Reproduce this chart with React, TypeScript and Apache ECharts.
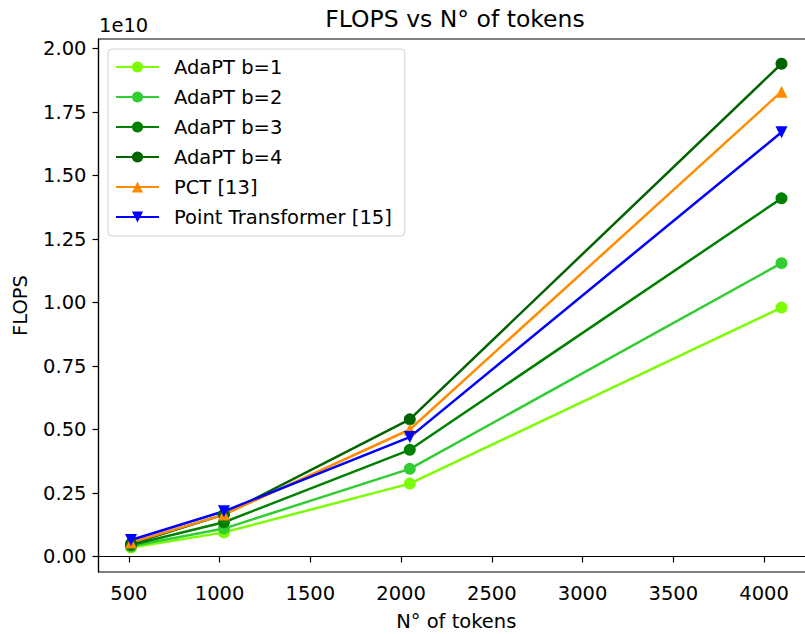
import React, { useEffect, useRef } from "react";
import * as echarts from "echarts";

const tokens = [512, 1024, 2048, 4096];
const adapt1 = [0.035e10, 0.095e10, 0.287e10, 0.98e10];
const adapt2 = [0.04e10, 0.11e10, 0.345e10, 1.155e10];
const adapt3 = [0.045e10, 0.135e10, 0.42e10, 1.41e10];
const adapt4 = [0.05e10, 0.165e10, 0.54e10, 1.94e10];
const pct = [0.055e10, 0.165e10, 0.5e10, 1.83e10];
const pointTransformer = [0.065e10, 0.178e10, 0.47e10, 1.67e10];

const xTicks = [500, 1000, 1500, 2000, 2500, 3000, 3500, 4000];
const yTicks = [0, 0.25e10, 0.5e10, 0.75e10, 1.0e10, 1.25e10, 1.5e10, 1.75e10, 2.0e10];

const FONT = "DejaVu Sans";
const FS = 19.5;

export default function App() {
  const ref = useRef<HTMLDivElement>(null);
  useEffect(() => {
    if (!ref.current) return;
    const chart = echarts.init(ref.current, null, { renderer: "svg" });
    const mk = (name: string, data: number[], color: string, symbol: string, rotate = 0) => ({
      name,
      type: "line",
      data: tokens.map((t, i) => [t, data[i]]),
      symbol,
      symbolSize: 12,
      symbolRotate: rotate,
      showSymbol: true,
      lineStyle: { color, width: 2.5 },
      itemStyle: { color },
      emphasis: { disabled: true },
    });
    chart.setOption({
      animation: false,
      textStyle: { fontFamily: FONT },
      grid: {
        left: 98.5,
        top: 39,
        right: -9,
        bottom: 62,
        show: true,
        borderColor: "#000",
        borderWidth: 1.2,
        outerBoundsMode: "none",
        containLabel: false,
      },
      graphic: [
        {
          type: "text",
          x: 455,
          y: 19,
          style: {
            text: "FLOPS vs N° of tokens",
            fontFamily: FONT,
            fontSize: 23.5,
            fill: "#000",
            textAlign: "center",
            textVerticalAlign: "middle",
          },
        },
        {
          type: "text",
          x: 99,
          y: 25,
          style: {
            text: "1e10",
            fontFamily: FONT,
            fontSize: FS,
            fill: "#000",
            textAlign: "left",
            textVerticalAlign: "middle",
          },
        },
      ],
      legend: {
        orient: "vertical",
        left: 108,
        top: 49,
        padding: [7, 13, 8, 7],
        itemWidth: 43,
        itemHeight: 14,
        itemGap: 8,
        backgroundColor: "rgba(255,255,255,0.85)",
        borderColor: "#d0d0d0",
        borderWidth: 1,
        borderRadius: 4,
        textStyle: {
          fontFamily: FONT,
          fontSize: FS,
          color: "#000",
          lineHeight: 22,
          padding: [0, 0, 0, 10],
        },
        data: ["AdaPT b=1", "AdaPT b=2", "AdaPT b=3", "AdaPT b=4", "PCT [13]", "Point Transformer [15]"],
      },
      xAxis: {
        type: "value",
        min: 332.8,
        max: 4275.2,
        name: "N° of tokens",
        nameLocation: "middle",
        nameGap: 39,
        nameTextStyle: { fontFamily: FONT, fontSize: FS, color: "#000" },
        axisLine: { show: true, lineStyle: { color: "#000", width: 1.2 } },
        axisTick: { show: true, length: 6, lineStyle: { color: "#000", width: 1.2 }, customValues: xTicks },
        axisLabel: {
          fontFamily: FONT,
          fontSize: FS,
          color: "#000",
          margin: 11,
          customValues: xTicks,
          formatter: (v: number) => String(v),
        },
        splitLine: { show: false },
      },
      yAxis: {
        type: "value",
        min: -0.061e10,
        max: 2.0374e10,
        name: "FLOPS",
        nameLocation: "middle",
        nameGap: 68,
        nameTextStyle: { fontFamily: FONT, fontSize: FS, color: "#000" },
        axisLine: { show: true, lineStyle: { color: "#000", width: 1.2 } },
        axisTick: { show: true, length: 6, lineStyle: { color: "#000", width: 1.2 }, customValues: yTicks },
        axisLabel: {
          fontFamily: FONT,
          fontSize: FS,
          color: "#000",
          margin: 12,
          customValues: yTicks,
          formatter: (v: number) => (v / 1e10).toFixed(2),
        },
        splitLine: { show: false },
      },
      series: [
        mk("AdaPT b=1", adapt1, "#7CFC00", "circle"),
        mk("AdaPT b=2", adapt2, "#32CD32", "circle"),
        mk("AdaPT b=3", adapt3, "#008000", "circle"),
        mk("AdaPT b=4", adapt4, "#006400", "circle"),
        mk("PCT [13]", pct, "#FF8C00", "triangle"),
        mk("Point Transformer [15]", pointTransformer, "#0000FF", "triangle", 180),
      ],
    });
    return () => chart.dispose();
  }, []);
  return (
    <div
      ref={ref}
      style={{ position: "fixed", left: 0, top: 0, width: 805, height: 634, background: "#fff" }}
    />
  );
}
